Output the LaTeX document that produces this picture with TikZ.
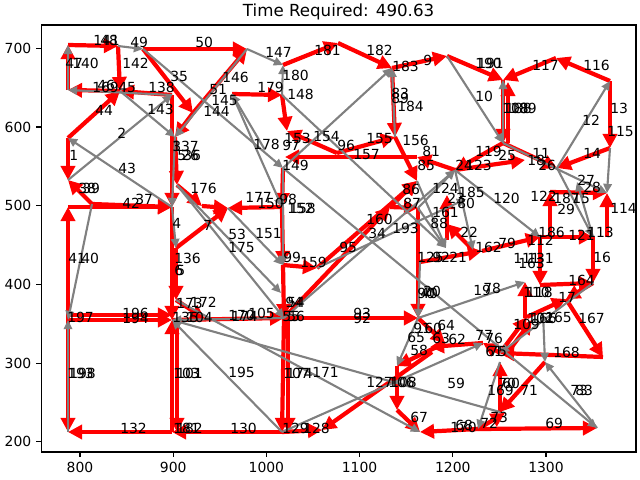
\documentclass[tikz,border=0pt]{standalone}
\usepackage{fontspec}
\setmainfont{DejaVu Sans}
\usetikzlibrary{arrows.meta}
\definecolor{routered}{HTML}{FF0000}
\definecolor{deadgray}{HTML}{808080}
\newcommand{\lblfont}{\fontsize{9.9}{11}\selectfont}
\tikzset{
    route/.style={draw=routered, line width=3pt,
        -{Triangle[length=10pt,width=10pt]}},
    dead/.style={draw=deadgray, line width=1.5pt,
        -{Triangle[length=6.5pt,width=6pt]}},
    elab/.style={font=\lblfont, anchor=base west, inner sep=0pt},
    ticklab/.style={font=\lblfont, inner sep=0pt},
}

\begin{document}
\begin{tikzpicture}[x=0.025cm, y=-0.025cm]
    \useasboundingbox (0,0) rectangle (640,480);

    % ── Vertices (pixel grid of the plot) ─────────────────────────────────
    \foreach \n/\x/\y in {
        a1/68/45, a2/68/90, a3/118/46, a4/143/49, a5/120/91, a6/172/95,
        a7/68/138, a8/68/180, a9/92/204, a10/68/207, a11/172/207,
        a12/68/320, a12b/68/315, a13/172/320, a13b/172/315, a13c/177/320,
        a14/68/432, a15/172/432, a15c/177/432,
        b1/247/49, b2/193/113, b3/175/137, b4/177/185, b5/202/206,
        b6/228/208, b7/176/248, b8/176/300, b9/205/319,
        c1/232/94, c2/282/95, c3/283/65, c4/338/43, c5/392/68, c6/447/56,
        c7/283/168, c8/282/207, c9/287/131, c10/337/153, c11/395/137,
        c12/417/157, c12b/285/157, c13/283/265, c14/284/318, c14b/288/318,
        c15/317/268, c16/417/181, c17/390/207, c18/418/208, c19/282/432,
        c19b/288/432, c20/322/430, c21/265/150, c22/446/248, c23/281/293,
        d1/503/80, d1b/508/82, d2/503/143, d2b/508/143, d3/556/58,
        d4/610/81, d5/610/148, d6/557/168, d7/455/170, d8/525/160,
        e1/540/237, e2/540/285, e3/593/237, e4/593/283, e5/607/237,
        e6/607/193, e7/550/192, e8/550/237, e10/566/299, e11/603/357,
        e12/500/353, e12b/505/356, e13/527/317, e13b/532/320,
        e14/525/282, e15/525/318,
        f1/418/318, f2/420/262, f3/482/251, f4/447/224, f5/447/240,
        f6/447/195, f7/473/250,
        g1/545/362, g2/500/412, g3/478/429, g4/597/428, g5/420/432,
        g6/397/366, g7/397/410, g8/483/343, g9/430/347, g10/445/343,
        g11/432/352, g12/543/313, g13/466/199, g15/577/182, g17/505/413,
        g18/500/362}
        \coordinate (\n) at (\x,\y);

    % ── Route (red) ───────────────────────────────────────────────────────
    \foreach \s/\t in {
        a2/a1, a1/a3, a3/a5, a5/a2, a6/a5, a7/a5, a7/a8, a9/a8, a10/a11,
        a9/a11, a12/a10, a12/a13, a12b/a13b, a12/a14, a15/a14, a15/a13,
        a13c/a15c, c19/a15, a4/b2, a4/b1, b2/b1, b2/b3, a6/a11, b3/b4,
        b4/b5, c8/b6, b5/b6, b7/b6, a11/a13, b7/b8, b8/b9, a13/c14,
        c1/c2, c3/c4, c4/c5, c5/c6, c2/c9, c10/c9, c10/c11, c12/c12b,
        c7/c8, c8/c13, c13/c14, c14/c19, c14b/c19b, c13/c15, c15/c16,
        c14/c17, c17/c16, c17/c18, c18/f1, c5/c11, c11/c16, d7/c12,
        c6/d1, d1/d2, d2b/d1b, d3/d1, d4/d3, d4/d5, d5/d6, d2/d7, d2/d6,
        d7/d8, f5/f6, f7/f4, f2/f3, f3/e1, e8/e7, e7/e6, e5/e6, e1/e3,
        e3/e4, e1/e2, e2/e4, e4/e10, e10/e11, e11/e12, e12/e13,
        e12b/e13b, e13/e10, e15/e14, g1/g2, g3/g4, g3/g17, g2/g18,
        g8/g9, f1/g10, g11/c20, c19/c20, g6/g7, g7/g5, g3/g5, c14/f1,
        g10/g6, e12/g8}
        \draw[route] (\s) -- (\t);

    % ── Deadheading (gray) ────────────────────────────────────────────────
    \foreach \s/\t in {
        a2/a1, a6/a2, a5/b3, a8/a6, a11/a7, a3/a4, b1/b3, b1/c3, c2/c3,
        c11/c5, c7/c5, c2/c22, c1/c8, c21/c1, a4/c7, b3/a11, a11/b7,
        b4/c14, b4/c23, b6/c13, a9/a12, a14/a12, c19/a13, c14/a13,
        g2/a13, b8/g5, c19/g8, c7/g4, g4/g1, g12/g1, g18/g3, e4/e12,
        f1/e14, c18/d7, c16/c22, c18/c22, c14/d7, c15/g13, d7/e1,
        d2/e6, d6/e3, e3/g15, d5/e6, c6/d2, d2/d1, d6/d4, f1/g6,
        f2/f1, c7/c13, d7/f7}
        \draw[dead] (\s) -- (\t);

    % ── Edge numbers ──────────────────────────────────────────────────────
    \foreach \x/\y/\t [count=\i] in {
        93/46/141, 100/46/48, 130/48/49, 195/48/50, 65/68/47, 72/68/140,
        122/68/142, 92/93/169, 97/91/46, 118/92/45, 148/93/138,
        147/114/143, 170/81/35, 222/82/146, 209/94/51, 211/105/145,
        203/116/144, 95/115/44, 117/138/2, 69/160/1, 118/173/43,
        172/151/3, 172/151/137, 177/160/5, 181/160/26, 183/160/36,
        78/193/38, 82/193/39, 190/193/176, 122/208/42, 135/204/37,
        172/228/4, 203/230/7, 228/239/53, 228/252/175, 68/263/41,
        81/263/40, 174/263/136, 174/275/6, 176/275/5, 176/308/173,
        190/307/172, 67/322/197, 122/318/196, 122/323/194, 172/322/135,
        186/322/104, 67/378/193, 69/378/198, 173/378/103, 176/378/101,
        120/433/132, 173/433/181, 176/433/182, 230/433/130, 228/377/195,
        228/320/170, 231/321/174, 248/318/105,
        265/58/147, 314/55/181, 366/55/182, 392/71/183, 423/65/9,
        282/80/180, 257/93/179, 287/99/148, 391/98/83, 391/103/89,
        397/111/184, 253/149/178, 282/150/97, 284/143/153, 313/141/154,
        337/150/96, 366/143/155, 353/159/157, 402/145/156, 422/156/81,
        417/170/85, 282/170/149, 245/202/177, 257/208/150, 279/204/98,
        287/213/152, 289/213/158, 402/194/86, 403/208/87, 366/224/160,
        368/238/34, 392/233/193, 255/238/151, 339/252/95, 283/262/99,
        300/267/159, 417/298/90, 420/298/40, 423/296/20, 285/307/94,
        287/307/54, 353/318/93, 353/323/92,
        475/68/190, 477/68/191, 532/70/117, 583/70/116, 475/101/10,
        502/113/108, 505/113/188, 510/113/189, 582/125/12, 610/113/13,
        607/136/115, 475/156/119, 498/160/25, 532/158/11, 527/165/18,
        538/170/26, 583/158/14, 455/170/24, 465/170/123, 432/193/124,
        458/197/185, 447/203/23, 457/208/80, 493/203/120, 530/201/122,
        553/203/187, 572/203/15, 577/185/27, 583/192/28, 610/213/114,
        557/214/29, 432/217/161, 430/228/88, 460/237/22, 538/237/186,
        568/240/121, 587/237/113, 527/245/112, 475/252/162, 498/248/79,
        417/262/125, 432/262/92, 449/262/21, 513/263/111, 527/263/131,
        518/268/163, 593/262/16, 568/285/164, 473/295/19, 483/293/78,
        523/297/110, 526/297/118, 558/302/17,
        437/330/64, 432/343/63, 448/344/62, 413/333/91, 424/333/60,
        475/340/77, 485/343/76, 513/329/109, 527/323/102, 530/323/166,
        545/322/165, 578/323/167, 485/356/61, 489/356/75, 553/357/168,
        447/388/59, 487/395/169, 498/388/70, 502/388/60, 520/395/71,
        570/395/73, 575/395/83, 490/422/73, 480/428/72, 450/432/170,
        455/430/68, 545/428/69, 410/355/58, 407/342/65, 410/422/67,
        366/387/127, 388/387/106, 390/387/108, 283/378/107, 286/378/174,
        312/377/171, 282/433/129, 303/433/128, 282/321/55, 287/321/56}
        \node[elab] (lab\i) at (\x,\y) {\t};

    % ── Axes frame, ticks and title ───────────────────────────────────────
    \draw[line width=0.8pt] (41.3,25) rectangle (636,452);
    \foreach \v [count=\k from 0] in {800,900,1000,1100,1200,1300} {
        \draw[line width=0.8pt] (80+93.2*\k,452) -- (80+93.2*\k,457);
        \node[ticklab, anchor=north] (xt\v) at (80+93.2*\k,462) {\v};
    }
    \foreach \v [count=\k from 0] in {700,600,500,400,300,200} {
        \draw[line width=0.8pt] (41.3,48.3+78.7*\k) -- (36.4,48.3+78.7*\k);
        \node[ticklab, anchor=east] (yt\v) at (31.5,48.3+78.7*\k) {\v};
    }
    \node[font=\fontsize{11.85}{13}\selectfont, anchor=base, inner sep=0pt]
        (title) at (338.6,17) {Time Required: 490.63};

\end{tikzpicture}
\end{document}
